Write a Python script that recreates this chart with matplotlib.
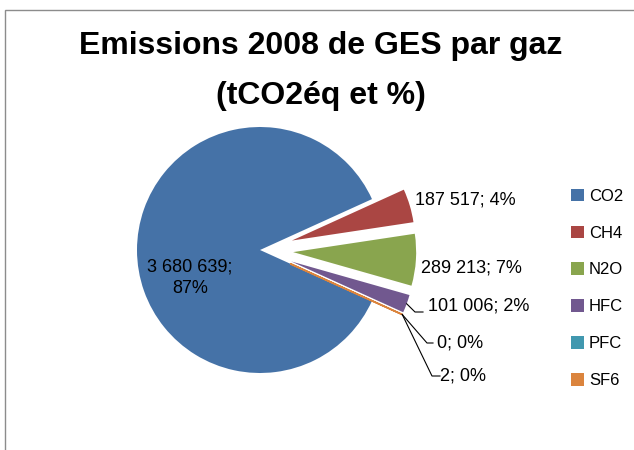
import matplotlib
matplotlib.use("Agg")
import matplotlib.pyplot as plt
from matplotlib.patches import Rectangle
import numpy as np

# data
gases = ["CO2", "CH4", "N2O", "HFC", "PFC", "SF6"]
emissions = [3680639, 187517, 289213, 101006, 0, 2]
pct_shown = [87, 4, 7, 2, 0, 0]
colors = ["#4572A7", "#AA4643", "#89A54E", "#71588F", "#4198AF", "#DB843D"]

font = "Liberation Sans"

W, H = 634, 450
cx, cy, R = 260, 250, 123  # pie centre / radius in pixels

fig = plt.figure(figsize=(W / 100, H / 100), dpi=100)
ax = fig.add_axes([0, 0, 1, 1])
ax.axis("off")

# chart area frame
fig.patches.append(Rectangle((5 / W, -0.1), 1.2, 1 - 10 / H + 0.1, transform=fig.transFigure,
                             fill=False, edgecolor="#8c8c8c", lw=1))

explode = [0, 0.27, 0.27, 0.27, 0.27, 0.27]
wedges, _ = ax.pie(emissions, colors=colors, explode=explode, startangle=-24.4,
                   counterclock=False, radius=1, center=(0, 0),
                   wedgeprops=dict(linewidth=0))
wedges[5].set_edgecolor(colors[5])
wedges[5].set_linewidth(1.2)
ax.set_aspect("equal")
ax.set_xlim(-cx / R, (W - cx) / R)
ax.set_ylim(-(H - cy) / R, cy / R)

def fmt(v, p):
    return f"{v:,}".replace(",", " ") + f"; {p}%"

lbl_font = dict(family=font, fontsize=13, color="black")

# CO2 label inside the slice
ax.text(-70 / R, -28 / R, fmt(emissions[0], pct_shown[0]).replace("; ", ";\n"),
        ha="center", va="center", linespacing=1.35, **lbl_font)

# outside labels (pixel offsets from the centre)
label_pos = {1: (155, 50), 2: (161, -18), 3: (168, -56), 4: (177, -93), 5: (180, -126)}
leaders = {3: [(155, -62), (163, -62)], 4: [(167, -93), (173, -93)], 5: [(172, -126), (180, -126)]}
for i, (px, py) in label_pos.items():
    ax.text(px / R, py / R, fmt(emissions[i], pct_shown[i]), ha="left", va="center", **lbl_font)
    if i in leaders:
        w = wedges[i]
        ang = np.deg2rad((w.theta1 + w.theta2) / 2)
        x0, y0 = w.center
        sx, sy = x0 + w.r * np.cos(ang), y0 + w.r * np.sin(ang)
        pts = [(sx, sy)] + [(a / R, b / R) for a, b in leaders[i]]
        ax.plot(*zip(*pts), color="black", lw=0.8)

fig.text(321 / W, 1 - 46 / H, "Emissions 2008 de GES par gaz", ha="center", va="center",
         family=font, fontsize=23, fontweight="bold")
fig.text(321 / W, 1 - 96 / H, "(tCO2éq et %)", ha="center", va="center",
         family=font, fontsize=23, fontweight="bold")

handles = [Rectangle((0, 0), 1, 1, facecolor=c) for c in colors]
fig.legend(handles, gases, loc="upper left", bbox_to_anchor=(564 / W, 1 - 182 / H),
           frameon=False, prop=dict(family=font, size=12), handlelength=0.8,
           handleheight=0.8, handletextpad=0.3, labelspacing=1.3, borderaxespad=0)

fig.savefig("out.png", dpi=100)
